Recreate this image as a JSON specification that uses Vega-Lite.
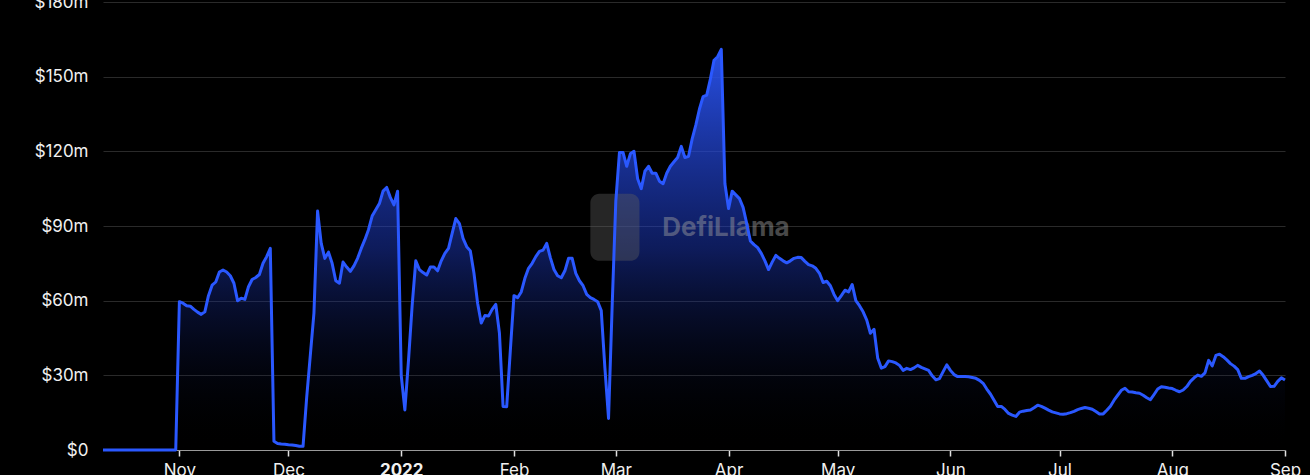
{
  "$schema": "https://vega.github.io/schema/vega-lite/v6.json",
  "autosize": {"type": "none"},
  "width": 1182,
  "height": 448,
  "padding": {"left": 103, "top": 2, "right": 25, "bottom": 25},
  "background": "#000000",
  "config": {
    "view": {"stroke": null},
    "font": "Inter"
  },
  "datasets": {
    "tvl": [
    {"date":"2021-10-11","tvl":0},{"date":"2021-10-20","tvl":0},{"date":"2021-10-31","tvl":0},
    {"date":"2021-11-01","tvl":59.6},{"date":"2021-11-02","tvl":59},{"date":"2021-11-03","tvl":58},{"date":"2021-11-04","tvl":57.8},{"date":"2021-11-05","tvl":56.5},{"date":"2021-11-06","tvl":55.4},{"date":"2021-11-07","tvl":54.5},{"date":"2021-11-08","tvl":55.5},{"date":"2021-11-09","tvl":62},{"date":"2021-11-10","tvl":66.2},{"date":"2021-11-11","tvl":67.5},{"date":"2021-11-12","tvl":71.5},{"date":"2021-11-13","tvl":72.3},{"date":"2021-11-14","tvl":71.5},{"date":"2021-11-15","tvl":70},{"date":"2021-11-16","tvl":67},{"date":"2021-11-17","tvl":60},{"date":"2021-11-18","tvl":61},{"date":"2021-11-19","tvl":60.5},{"date":"2021-11-20","tvl":65.6},{"date":"2021-11-21","tvl":68.5},{"date":"2021-11-22","tvl":69.3},{"date":"2021-11-23","tvl":70.5},{"date":"2021-11-24","tvl":75},{"date":"2021-11-25","tvl":77.7},{"date":"2021-11-26","tvl":81},{"date":"2021-11-27","tvl":3.5},{"date":"2021-11-28","tvl":2.6},{"date":"2021-11-29","tvl":2.4},{"date":"2021-11-30","tvl":2.3},
    {"date":"2021-12-01","tvl":2.1},{"date":"2021-12-02","tvl":2},{"date":"2021-12-03","tvl":1.8},{"date":"2021-12-04","tvl":1.5},{"date":"2021-12-05","tvl":1.5},{"date":"2021-12-06","tvl":21},{"date":"2021-12-07","tvl":38},{"date":"2021-12-08","tvl":55},{"date":"2021-12-09","tvl":96},{"date":"2021-12-10","tvl":83},{"date":"2021-12-11","tvl":77},{"date":"2021-12-12","tvl":79.5},{"date":"2021-12-13","tvl":75},{"date":"2021-12-14","tvl":68},{"date":"2021-12-15","tvl":67},{"date":"2021-12-16","tvl":75.5},{"date":"2021-12-17","tvl":73.5},{"date":"2021-12-18","tvl":71.8},{"date":"2021-12-19","tvl":74},{"date":"2021-12-20","tvl":77},{"date":"2021-12-21","tvl":81},{"date":"2021-12-22","tvl":84.5},{"date":"2021-12-23","tvl":88.5},{"date":"2021-12-24","tvl":94},{"date":"2021-12-25","tvl":96.5},{"date":"2021-12-26","tvl":99},{"date":"2021-12-27","tvl":104},{"date":"2021-12-28","tvl":105.5},{"date":"2021-12-29","tvl":101.5},{"date":"2021-12-30","tvl":98.5},{"date":"2021-12-31","tvl":104},
    {"date":"2022-01-01","tvl":30},{"date":"2022-01-02","tvl":16.1},{"date":"2022-01-03","tvl":36},{"date":"2022-01-04","tvl":58},{"date":"2022-01-05","tvl":76},{"date":"2022-01-06","tvl":72.5},{"date":"2022-01-07","tvl":71.3},{"date":"2022-01-08","tvl":70.3},{"date":"2022-01-09","tvl":73.5},{"date":"2022-01-10","tvl":73.5},{"date":"2022-01-11","tvl":72},{"date":"2022-01-12","tvl":76},{"date":"2022-01-13","tvl":79},{"date":"2022-01-14","tvl":81},{"date":"2022-01-15","tvl":87},{"date":"2022-01-16","tvl":93},{"date":"2022-01-17","tvl":91},{"date":"2022-01-18","tvl":85},{"date":"2022-01-19","tvl":81.7},{"date":"2022-01-20","tvl":80},{"date":"2022-01-21","tvl":71},{"date":"2022-01-22","tvl":59},{"date":"2022-01-23","tvl":51},{"date":"2022-01-24","tvl":54},{"date":"2022-01-25","tvl":53.8},{"date":"2022-01-26","tvl":56.5},{"date":"2022-01-27","tvl":58.5},{"date":"2022-01-28","tvl":47},{"date":"2022-01-29","tvl":17.5},{"date":"2022-01-30","tvl":17.4},{"date":"2022-01-31","tvl":40},
    {"date":"2022-02-01","tvl":62},{"date":"2022-02-02","tvl":61.2},{"date":"2022-02-03","tvl":63.5},{"date":"2022-02-04","tvl":69},{"date":"2022-02-05","tvl":73},{"date":"2022-02-06","tvl":75},{"date":"2022-02-07","tvl":77.7},{"date":"2022-02-08","tvl":79.8},{"date":"2022-02-09","tvl":80.3},{"date":"2022-02-10","tvl":83},{"date":"2022-02-11","tvl":77.3},{"date":"2022-02-12","tvl":72.5},{"date":"2022-02-13","tvl":70},{"date":"2022-02-14","tvl":69.2},{"date":"2022-02-15","tvl":72},{"date":"2022-02-16","tvl":77},{"date":"2022-02-17","tvl":77},{"date":"2022-02-18","tvl":71},{"date":"2022-02-19","tvl":68},{"date":"2022-02-20","tvl":66},{"date":"2022-02-21","tvl":62.5},{"date":"2022-02-22","tvl":61.2},{"date":"2022-02-23","tvl":60.5},{"date":"2022-02-24","tvl":59.6},{"date":"2022-02-25","tvl":56},{"date":"2022-02-26","tvl":33},{"date":"2022-02-27","tvl":12.7},{"date":"2022-02-28","tvl":58},
    {"date":"2022-03-01","tvl":100},{"date":"2022-03-02","tvl":119.5},{"date":"2022-03-03","tvl":119.5},{"date":"2022-03-04","tvl":114},{"date":"2022-03-05","tvl":119},{"date":"2022-03-06","tvl":120},{"date":"2022-03-07","tvl":109},{"date":"2022-03-08","tvl":105},{"date":"2022-03-09","tvl":112},{"date":"2022-03-10","tvl":114},{"date":"2022-03-11","tvl":111.2},{"date":"2022-03-12","tvl":111.2},{"date":"2022-03-13","tvl":108},{"date":"2022-03-14","tvl":107},{"date":"2022-03-15","tvl":111.2},{"date":"2022-03-16","tvl":114},{"date":"2022-03-17","tvl":115.8},{"date":"2022-03-18","tvl":117.5},{"date":"2022-03-19","tvl":122},{"date":"2022-03-20","tvl":117.5},{"date":"2022-03-21","tvl":118},{"date":"2022-03-22","tvl":125},{"date":"2022-03-23","tvl":130.5},{"date":"2022-03-24","tvl":137},{"date":"2022-03-25","tvl":142},{"date":"2022-03-26","tvl":142.6},{"date":"2022-03-27","tvl":149},{"date":"2022-03-28","tvl":156.6},{"date":"2022-03-29","tvl":158},{"date":"2022-03-30","tvl":161},{"date":"2022-03-31","tvl":107},
    {"date":"2022-04-01","tvl":97},{"date":"2022-04-02","tvl":104},{"date":"2022-04-03","tvl":102.5},{"date":"2022-04-04","tvl":101},{"date":"2022-04-05","tvl":97.5},{"date":"2022-04-06","tvl":91},{"date":"2022-04-07","tvl":84},{"date":"2022-04-08","tvl":82.5},{"date":"2022-04-09","tvl":81.3},{"date":"2022-04-10","tvl":79},{"date":"2022-04-11","tvl":76},{"date":"2022-04-12","tvl":72.5},{"date":"2022-04-13","tvl":75.5},{"date":"2022-04-14","tvl":78.2},{"date":"2022-04-15","tvl":77},{"date":"2022-04-16","tvl":76},{"date":"2022-04-17","tvl":75.2},{"date":"2022-04-18","tvl":76},{"date":"2022-04-19","tvl":77},{"date":"2022-04-20","tvl":77.4},{"date":"2022-04-21","tvl":77.3},{"date":"2022-04-22","tvl":75.8},{"date":"2022-04-23","tvl":74.5},{"date":"2022-04-24","tvl":74},{"date":"2022-04-25","tvl":73},{"date":"2022-04-26","tvl":71},{"date":"2022-04-27","tvl":67.3},{"date":"2022-04-28","tvl":67.8},{"date":"2022-04-29","tvl":66},{"date":"2022-04-30","tvl":62.5},
    {"date":"2022-05-01","tvl":60},{"date":"2022-05-02","tvl":62},{"date":"2022-05-03","tvl":64.2},{"date":"2022-05-04","tvl":63.5},{"date":"2022-05-05","tvl":66.5},{"date":"2022-05-06","tvl":60},{"date":"2022-05-07","tvl":58},{"date":"2022-05-08","tvl":55.5},{"date":"2022-05-09","tvl":52.2},{"date":"2022-05-10","tvl":46.9},{"date":"2022-05-11","tvl":48.5},{"date":"2022-05-12","tvl":37},{"date":"2022-05-13","tvl":32.9},{"date":"2022-05-14","tvl":33.5},{"date":"2022-05-15","tvl":35.8},{"date":"2022-05-16","tvl":35.5},{"date":"2022-05-17","tvl":35},{"date":"2022-05-18","tvl":34},{"date":"2022-05-19","tvl":32},{"date":"2022-05-20","tvl":32.8},{"date":"2022-05-21","tvl":32.3},{"date":"2022-05-22","tvl":33},{"date":"2022-05-23","tvl":34},{"date":"2022-05-24","tvl":33.2},{"date":"2022-05-25","tvl":32.6},{"date":"2022-05-26","tvl":32},{"date":"2022-05-27","tvl":29.8},{"date":"2022-05-28","tvl":28.2},{"date":"2022-05-29","tvl":28.7},{"date":"2022-05-30","tvl":31.5},{"date":"2022-05-31","tvl":34.2},
    {"date":"2022-06-01","tvl":32},{"date":"2022-06-02","tvl":30.3},{"date":"2022-06-03","tvl":29.5},{"date":"2022-06-04","tvl":29.5},{"date":"2022-06-05","tvl":29.5},{"date":"2022-06-06","tvl":29.4},{"date":"2022-06-07","tvl":29.1},{"date":"2022-06-08","tvl":28.8},{"date":"2022-06-09","tvl":28},{"date":"2022-06-10","tvl":26.8},{"date":"2022-06-11","tvl":24.5},{"date":"2022-06-12","tvl":22.5},{"date":"2022-06-13","tvl":20},{"date":"2022-06-14","tvl":17.5},{"date":"2022-06-15","tvl":17.5},{"date":"2022-06-16","tvl":16.3},{"date":"2022-06-17","tvl":14.7},{"date":"2022-06-18","tvl":14},{"date":"2022-06-19","tvl":13.5},{"date":"2022-06-20","tvl":15.2},{"date":"2022-06-21","tvl":15.6},{"date":"2022-06-22","tvl":15.9},{"date":"2022-06-23","tvl":16.1},{"date":"2022-06-24","tvl":17},{"date":"2022-06-25","tvl":18},{"date":"2022-06-26","tvl":17.5},{"date":"2022-06-27","tvl":16.8},{"date":"2022-06-28","tvl":16},{"date":"2022-06-29","tvl":15.3},{"date":"2022-06-30","tvl":14.9},
    {"date":"2022-07-01","tvl":14.5},{"date":"2022-07-02","tvl":14.4},{"date":"2022-07-03","tvl":14.6},{"date":"2022-07-04","tvl":15},{"date":"2022-07-05","tvl":15.5},{"date":"2022-07-06","tvl":16.2},{"date":"2022-07-07","tvl":16.7},{"date":"2022-07-08","tvl":17.1},{"date":"2022-07-09","tvl":16.8},{"date":"2022-07-10","tvl":16.4},{"date":"2022-07-11","tvl":15.5},{"date":"2022-07-12","tvl":14.5},{"date":"2022-07-13","tvl":14.5},{"date":"2022-07-14","tvl":16},{"date":"2022-07-15","tvl":17.6},{"date":"2022-07-16","tvl":20},{"date":"2022-07-17","tvl":22},{"date":"2022-07-18","tvl":24},{"date":"2022-07-19","tvl":24.8},{"date":"2022-07-20","tvl":23.4},{"date":"2022-07-21","tvl":23.3},{"date":"2022-07-22","tvl":23},{"date":"2022-07-23","tvl":22.8},{"date":"2022-07-24","tvl":22},{"date":"2022-07-25","tvl":21},{"date":"2022-07-26","tvl":20.2},{"date":"2022-07-27","tvl":22.3},{"date":"2022-07-28","tvl":24.5},{"date":"2022-07-29","tvl":25.4},{"date":"2022-07-30","tvl":25.2},{"date":"2022-07-31","tvl":24.9},
    {"date":"2022-08-01","tvl":24.7},{"date":"2022-08-02","tvl":24},{"date":"2022-08-03","tvl":23.4},{"date":"2022-08-04","tvl":24.1},{"date":"2022-08-05","tvl":25.5},{"date":"2022-08-06","tvl":27.6},{"date":"2022-08-07","tvl":29},{"date":"2022-08-08","tvl":30.1},{"date":"2022-08-09","tvl":29.6},{"date":"2022-08-10","tvl":31},{"date":"2022-08-11","tvl":36},{"date":"2022-08-12","tvl":33.8},{"date":"2022-08-13","tvl":38},{"date":"2022-08-14","tvl":38.5},{"date":"2022-08-15","tvl":37.5},{"date":"2022-08-16","tvl":36.2},{"date":"2022-08-17","tvl":34.7},{"date":"2022-08-18","tvl":33.7},{"date":"2022-08-19","tvl":32.3},{"date":"2022-08-20","tvl":28.8},{"date":"2022-08-21","tvl":28.8},{"date":"2022-08-22","tvl":29.5},{"date":"2022-08-23","tvl":30},{"date":"2022-08-24","tvl":30.7},{"date":"2022-08-25","tvl":31.7},{"date":"2022-08-26","tvl":30},{"date":"2022-08-27","tvl":27.8},{"date":"2022-08-28","tvl":25.5},{"date":"2022-08-29","tvl":25.6},{"date":"2022-08-30","tvl":27.6},{"date":"2022-08-31","tvl":29},
    {"date":"2022-09-01","tvl":28.1}
    ],
    "watermark": [{"label": "DefiLlama"}]
  },
  "layer": [
    {
      "data": {"name": "tvl"},
      "mark": {
        "type": "area",
        "color": {
          "gradient": "linear",
          "x1": 1, "y1": 1, "x2": 1, "y2": 0,
          "stops": [
            {"offset": 0, "color": "rgba(0,0,0,0)"},
            {"offset": 0.5, "color": "rgba(30,60,200,0.45)"},
            {"offset": 1, "color": "rgba(42,84,240,0.95)"}
          ]
        }
      },
      "encoding": {
        "x": {
          "field": "date",
          "type": "temporal",
          "scale": {"type": "utc", "domain": [{"year": 2021, "month": 10, "date": 11, "utc": true}, {"year": 2022, "month": 9, "date": 1, "utc": true}]},
          "axis": {
            "title": null,
            "tickCount": {"interval": "month", "step": 1},
            "labelExpr": "utcmonth(datum.value) == 0 ? utcFormat(datum.value, '%Y') : utcFormat(datum.value, '%b')",
            "labelFontWeight": {"condition": {"test": "utcmonth(datum.value) == 0", "value": "bold"}, "value": "normal"},
            "labelColor": "#f0f0f0",
            "labelFontSize": 17,
            "labelPadding": 6,
            "tickColor": "#e0e0e0",
            "tickSize": 6,
            "tickWidth": 1.5,
            "domainColor": "#9a9a9a",
            "domainWidth": 1,
            "grid": false,
            "labelFlush": false,
            "labelOverlap": false
          }
        },
        "y": {
          "field": "tvl",
          "type": "quantitative",
          "scale": {"domain": [0, 180], "nice": false, "zero": true},
          "axis": {
            "title": null,
            "values": [0, 30, 60, 90, 120, 150, 180],
            "labelExpr": "datum.value == 0 ? '$0' : '$' + datum.value + 'm'",
            "labelColor": "#f0f0f0",
            "labelFontSize": 17,
            "labelPadding": 15,
            "ticks": false,
            "tickSize": 0,
            "domain": false,
            "grid": true,
            "gridColor": "#2a2a2a",
            "gridWidth": 1
          }
        }
      }
    },
    {
      "data": {"name": "watermark"},
      "mark": {"type": "rect", "color": "#5e5e5e", "opacity": 0.4, "cornerRadius": 9},
      "encoding": {
        "x": {"datum": {"year": 2022, "month": 2, "date": 22, "utc": true}, "type": "temporal"},
        "x2": {"datum": {"year": 2022, "month": 3, "date": 7, "hours": 12, "utc": true}},
        "y": {"datum": 76, "type": "quantitative"},
        "y2": {"datum": 103}
      }
    },
    {
      "data": {"name": "watermark"},
      "mark": {"type": "text", "align": "left", "baseline": "middle", "font": "Inter", "fontSize": 26, "fontWeight": "bold", "color": "#a0a0a0", "opacity": 0.45},
      "encoding": {
        "x": {"datum": {"year": 2022, "month": 3, "date": 13, "hours": 18, "utc": true}, "type": "temporal"},
        "y": {"datum": 89, "type": "quantitative"},
        "text": {"field": "label"}
      }
    },
    {
      "data": {"name": "tvl"},
      "mark": {"type": "line", "color": "#2a58ff", "strokeWidth": 3, "strokeJoin": "round"},
      "encoding": {
        "x": {"field": "date", "type": "temporal"},
        "y": {"field": "tvl", "type": "quantitative"}
      }
    }
  ]
}
